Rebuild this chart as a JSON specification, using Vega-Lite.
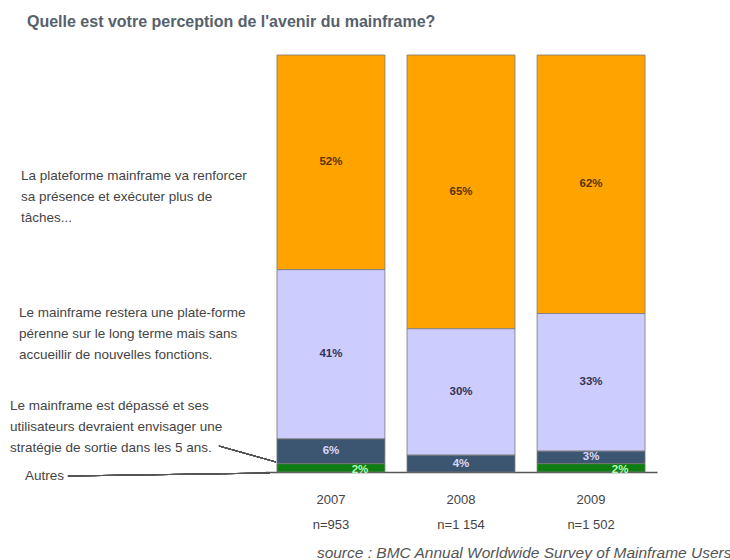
{
  "$schema": "https://vega.github.io/schema/vega-lite/v6.json",
  "width": 392,
  "height": 417,
  "autosize": {"type": "none"},
  "padding": {"left": 265, "top": 55, "right": 73, "bottom": 88},
  "background": "white",
  "config": {"view": {"stroke": null}, "font": "Liberation Sans"},
  "title": {
    "text": "Quelle est votre perception de l'avenir du mainframe?",
    "anchor": "start",
    "frame": "group",
    "dx": -238,
    "offset": 25,
    "font": "Liberation Sans",
    "fontSize": 16,
    "fontWeight": "bold",
    "color": "#56616b"
  },
  "data": {
    "values": [
      {"year": "2007", "n": "n=953", "cat": "renforcer", "order": 4, "value": 52, "label": "52%", "desc": "La plateforme mainframe va renforcer\nsa présence et exécuter plus de\ntâches..."},
      {"year": "2007", "n": "n=953", "cat": "perenne", "order": 3, "value": 41, "label": "41%", "desc": "Le mainframe restera une plate-forme\npérenne sur le long terme mais sans\naccueillir de nouvelles fonctions."},
      {"year": "2007", "n": "n=953", "cat": "depasse", "order": 2, "value": 6, "label": "6%", "desc": "Le mainframe est dépassé et ses\nutilisateurs devraient envisager une\nstratégie de sortie dans les 5 ans."},
      {"year": "2007", "n": "n=953", "cat": "autres", "order": 1, "value": 2, "label": "2%", "desc": "Autres"},
      {"year": "2008", "n": "n=1 154", "cat": "renforcer", "order": 4, "value": 65, "label": "65%"},
      {"year": "2008", "n": "n=1 154", "cat": "perenne", "order": 3, "value": 30, "label": "30%"},
      {"year": "2008", "n": "n=1 154", "cat": "depasse", "order": 2, "value": 4, "label": "4%"},
      {"year": "2009", "n": "n=1 502", "cat": "renforcer", "order": 4, "value": 62, "label": "62%"},
      {"year": "2009", "n": "n=1 502", "cat": "perenne", "order": 3, "value": 33, "label": "33%"},
      {"year": "2009", "n": "n=1 502", "cat": "depasse", "order": 2, "value": 3, "label": "3%"},
      {"year": "2009", "n": "n=1 502", "cat": "autres", "order": 1, "value": 2, "label": "2%"}
    ]
  },
  "encoding": {
    "x": {
      "field": "year",
      "type": "nominal",
      "scale": {"paddingInner": 0.17, "paddingOuter": 0.092},
      "axis": {
        "labelAngle": 0,
        "ticks": false,
        "domainColor": "#555555",
        "domainWidth": 1.5,
        "labelPadding": 21,
        "labelFontSize": 13,
        "labelColor": "#444444",
        "labelFont": "Liberation Sans",
        "title": "source : BMC Annual Worldwide Survey of Mainframe Users",
        "titleFont": "Liberation Sans",
        "titleFontStyle": "italic",
        "titleFontWeight": "normal",
        "titleFontSize": 15.5,
        "titleColor": "#555555",
        "titleX": 466,
        "titleY": 80,
        "titleAlign": "right",
        "titleBaseline": "middle",
        "titleAnchor": "end"
      }
    }
  },
  "layer": [
    {
      "mark": {"type": "bar", "stroke": "#777777", "strokeWidth": 0.8},
      "encoding": {
        "y": {"field": "value", "type": "quantitative", "stack": "normalize", "scale": {"domain": [0, 1], "nice": false}, "axis": null},
        "color": {
          "field": "cat",
          "type": "nominal",
          "scale": {"domain": ["renforcer", "perenne", "depasse", "autres"], "range": ["#FFA300", "#CCCCFF", "#3C5672", "#0F7D12"]},
          "legend": null
        },
        "order": {"field": "order", "type": "quantitative"}
      }
    },
    {
      "mark": {"type": "text", "fontSize": 11.5, "fontWeight": "bold", "font": "Liberation Sans", "baseline": "middle"},
      "encoding": {
        "y": {"field": "value", "type": "quantitative", "stack": "normalize", "bandPosition": 0.5},
        "detail": {"field": "cat"},
        "order": {"field": "order", "type": "quantitative"},
        "text": {"condition": {"test": "datum.cat !== 'autres'", "field": "label"}, "value": ""},
        "color": {
          "field": "cat",
          "type": "nominal",
          "scale": {"domain": ["renforcer", "perenne", "depasse", "autres"], "range": ["#5a3300", "#333355", "#d8d8ff", "#b0ffb0"]},
          "legend": null
        }
      }
    },
    {
      "mark": {"type": "text", "fontSize": 11.5, "fontWeight": "bold", "font": "Liberation Sans", "baseline": "middle", "dx": 29, "dy": 2, "color": "#b0ffb0"},
      "encoding": {
        "y": {"field": "value", "type": "quantitative", "stack": "normalize", "bandPosition": 0.5},
        "detail": {"field": "cat"},
        "order": {"field": "order", "type": "quantitative"},
        "text": {"condition": {"test": "datum.cat === 'autres'", "field": "label"}, "value": ""}
      }
    },
    {
      "mark": {"type": "text", "fontSize": 13.5, "font": "Liberation Sans", "align": "left", "baseline": "middle", "lineBreak": "\n", "lineHeight": 21, "color": "#444444", "dx": -310, "dy": 14},
      "encoding": {
        "y": {"field": "value", "type": "quantitative", "stack": "normalize", "bandPosition": 0.5},
        "detail": {"field": "cat"},
        "order": {"field": "order", "type": "quantitative"},
        "text": {"condition": {"test": "datum.year === '2007' && datum.cat === 'renforcer'", "field": "desc"}, "value": ""}
      }
    },
    {
      "mark": {"type": "text", "fontSize": 13.5, "font": "Liberation Sans", "align": "left", "baseline": "middle", "lineBreak": "\n", "lineHeight": 21, "color": "#444444", "dx": -312, "dy": -41},
      "encoding": {
        "y": {"field": "value", "type": "quantitative", "stack": "normalize", "bandPosition": 0.5},
        "detail": {"field": "cat"},
        "order": {"field": "order", "type": "quantitative"},
        "text": {"condition": {"test": "datum.year === '2007' && datum.cat === 'perenne'", "field": "desc"}, "value": ""}
      }
    },
    {
      "mark": {"type": "text", "fontSize": 13.5, "font": "Liberation Sans", "align": "left", "baseline": "middle", "lineBreak": "\n", "lineHeight": 21, "color": "#444444", "dx": -321, "dy": -45},
      "encoding": {
        "y": {"field": "value", "type": "quantitative", "stack": "normalize", "bandPosition": 0.5},
        "detail": {"field": "cat"},
        "order": {"field": "order", "type": "quantitative"},
        "text": {"condition": {"test": "datum.year === '2007' && datum.cat === 'depasse'", "field": "desc"}, "value": ""}
      }
    },
    {
      "mark": {"type": "text", "fontSize": 13.5, "font": "Liberation Sans", "align": "left", "baseline": "middle", "color": "#444444", "dx": -306, "dy": 8},
      "encoding": {
        "y": {"field": "value", "type": "quantitative", "stack": "normalize", "bandPosition": 0.5},
        "detail": {"field": "cat"},
        "order": {"field": "order", "type": "quantitative"},
        "text": {"condition": {"test": "datum.year === '2007' && datum.cat === 'autres'", "field": "desc"}, "value": ""}
      }
    },
    {
      "transform": [{"filter": "datum.cat === 'renforcer'"}],
      "mark": {"type": "text", "fontSize": 13, "font": "Liberation Sans", "baseline": "middle", "color": "#444444", "dy": 53},
      "encoding": {
        "y": {"datum": 0, "type": "quantitative"},
        "text": {"field": "n"}
      }
    },
    {
      "mark": {"type": "rule", "color": "#555555", "strokeWidth": 1, "xOffset": -112, "x2Offset": -55, "yOffset": -26, "y2Offset": -10},
      "encoding": {
        "x": {"datum": "2007", "type": "nominal"},
        "x2": {"datum": "2007"},
        "y": {"datum": 0, "type": "quantitative"},
        "y2": {"datum": 0}
      }
    },
    {
      "mark": {"type": "rule", "color": "#555555", "strokeWidth": 1, "xOffset": -263, "x2Offset": -61, "yOffset": 4, "y2Offset": 1},
      "encoding": {
        "x": {"datum": "2007", "type": "nominal"},
        "x2": {"datum": "2007"},
        "y": {"datum": 0, "type": "quantitative"},
        "y2": {"datum": 0}
      }
    }
  ],
  "resolve": {"scale": {"color": "independent"}}
}
